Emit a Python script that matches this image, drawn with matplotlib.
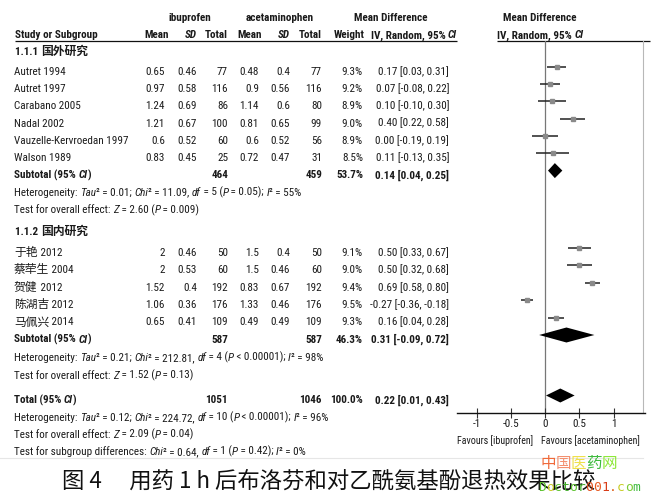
import matplotlib
matplotlib.use('Agg')
import matplotlib.pyplot as plt
from matplotlib import font_manager as fm
from matplotlib.font_manager import FontProperties

# ---------------- data ----------------
g1_label = '1.1.1 国外研究'
g1_studies = ['Autret 1994', 'Autret 1997', 'Carabano 2005', 'Nadal 2002',
              'Vauzelle-Kervroedan 1997', 'Walson 1989']
g1_ibu_mean = [0.65, 0.97, 1.24, 1.21, 0.6, 0.83]
g1_ibu_sd = [0.46, 0.58, 0.69, 0.67, 0.52, 0.45]
g1_ibu_n = [77, 116, 86, 100, 60, 25]
g1_ace_mean = [0.48, 0.9, 1.14, 0.81, 0.6, 0.72]
g1_ace_sd = [0.4, 0.56, 0.6, 0.65, 0.52, 0.47]
g1_ace_n = [77, 116, 80, 99, 56, 31]
g1_weight = [9.3, 9.2, 8.9, 9.0, 8.9, 8.5]
g1_md = [0.17, 0.07, 0.10, 0.40, 0.00, 0.11]
g1_lo = [0.03, -0.08, -0.10, 0.22, -0.19, -0.13]
g1_hi = [0.31, 0.22, 0.30, 0.58, 0.19, 0.35]
g1_sub = dict(ibu_n=464, ace_n=459, weight=53.7, md=0.14, lo=0.04, hi=0.25)
g1_het = ['Heterogeneity: ', ('Tau',), '² = 0.01; ', ('Chi',), '² = 11.09, ', ('df',),
          ' = 5 (', ('P',), ' = 0.05); ', ('I',), '² = 55%']
g1_test = ['Test for overall effect: ', ('Z',), ' = 2.60 (', ('P',), ' = 0.009)']

g2_label = '1.1.2 国内研究'
g2_studies = ['于艳 2012', '蔡荦生 2004', '贺健 2012', '陈湖吉 2012', '马佩兴 2014']
g2_ibu_mean = [2, 2, 1.52, 1.06, 0.65]
g2_ibu_sd = [0.46, 0.53, 0.4, 0.36, 0.41]
g2_ibu_n = [50, 60, 192, 176, 109]
g2_ace_mean = [1.5, 1.5, 0.83, 1.33, 0.49]
g2_ace_sd = [0.4, 0.46, 0.67, 0.46, 0.49]
g2_ace_n = [50, 60, 192, 176, 109]
g2_weight = [9.1, 9.0, 9.4, 9.5, 9.3]
g2_md = [0.50, 0.50, 0.69, -0.27, 0.16]
g2_lo = [0.33, 0.32, 0.58, -0.36, 0.04]
g2_hi = [0.67, 0.68, 0.80, -0.18, 0.28]
g2_sub = dict(ibu_n=587, ace_n=587, weight=46.3, md=0.31, lo=-0.09, hi=0.72)
g2_het = ['Heterogeneity: ', ('Tau',), '² = 0.21; ', ('Chi',), '² = 212.81, ', ('df',),
          ' = 4 (', ('P',), ' < 0.00001); ', ('I',), '² = 98%']
g2_test = ['Test for overall effect: ', ('Z',), ' = 1.52 (', ('P',), ' = 0.13)']

total = dict(ibu_n=1051, ace_n=1046, weight=100.0, md=0.22, lo=0.01, hi=0.43)
tot_het = ['Heterogeneity: ', ('Tau',), '² = 0.12; ', ('Chi',), '² = 224.72, ', ('df',),
           ' = 10 (', ('P',), ' < 0.00001); ', ('I',), '² = 96%']
tot_test = ['Test for overall effect: ', ('Z',), ' = 2.09 (', ('P',), ' = 0.04)']
sub_test = ['Test for subgroup differences: ', ('Chi',), '² = 0.64, ', ('df',), ' = 1 (',
            ('P',), ' = 0.42); ', ('I',), '² = 0%']

tick_vals = [-1, -0.5, 0, 0.5, 1]
tick_labels = ['-1', '-0.5', '0', '0.5', '1']
favours_left = 'Favours [ibuprofen]'
favours_right = 'Favours [acetaminophen]'
caption = '图 4\u3000 用药 1 h 后布洛芬和对乙酰氨基酚退热效果比较'
wm1 = '中国医药网'
wm2 = 'Doctor001.com'

# ---------------- figure ----------------
CJK = 'Noto Sans CJK SC'
TXT = '#1a1a1a'
fig = plt.figure(figsize=(6.53, 4.98), dpi=100)
fig.patch.set_facecolor('white')
ax = fig.add_axes([0, 0, 1, 1])
ax.set_xlim(0, 653)
ax.set_ylim(498, 0)
ax.axis('off')
R = fig.canvas.get_renderer()


def raw_w(s, kw):
    t = ax.text(0, 0, '|' + s + '|', **kw)
    w1 = t.get_window_extent(R).width
    t.remove()
    t = ax.text(0, 0, '||', **kw)
    w2 = t.get_window_extent(R).width
    t.remove()
    return w1 - w2


# ---- pick a narrow sans face family (regular/bold/italic files) ----
def wnum(w):
    if isinstance(w, str):
        return fm.weight_dict.get(w, 400)
    return int(w)


OK_NAMES = {'Liberation Sans Narrow', 'Arial Narrow', 'Liberation Sans', 'Arimo',
            'Noto Sans', 'Noto Sans Condensed', 'Noto Sans SemiCondensed',
            'Noto Sans ExtraCondensed', 'DejaVu Sans', 'DejaVu Sans Condensed',
            'Roboto', 'Roboto Condensed', 'Lato', 'Open Sans', 'Open Sans Condensed',
            'Open Sans SemiCondensed', 'Inter'}
entries = [f for f in fm.fontManager.ttflist if f.name in OK_NAMES]
TARGET = 119.0   # width of 'Vauzelle-Kervroedan 1997' in the reference (px)
best = None
for f in entries:
    if f.style != 'normal' or not (350 <= wnum(f.weight) <= 500):
        continue
    sib = [g for g in entries if g.name == f.name and g.stretch == f.stretch]
    bold = [g for g in sib if g.style == 'normal' and wnum(g.weight) >= 600]
    ital = [g for g in sib if g.style != 'normal' and 350 <= wnum(g.weight) <= 500]
    bital = [g for g in sib if g.style != 'normal' and wnum(g.weight) >= 600]
    try:
        w = raw_w('Vauzelle-Kervroedan 1997',
                  dict(fontproperties=FontProperties(fname=f.fname, size=9)))
    except Exception:
        continue
    score = abs(w - TARGET) + (0 if bold else 25) + (0 if ital else 10) + (0 if bital else 5)
    if best is None or score < best[0]:
        pick = lambda lst, tw: (min(lst, key=lambda g: abs(wnum(g.weight) - tw)).fname
                                if lst else None)
        best = (score, w, f.fname, pick(bold, 700), pick(ital, 400), pick(bital, 700))

if best is None:
    dv = fm.findfont('DejaVu Sans')
    best = (0, 140.0, dv, None, None, None)
_, W9, F_REG, F_BOLD, F_IT, F_BIT = best
F_BOLD = F_BOLD or F_REG
F_IT = F_IT or F_REG
F_BIT = F_BIT or F_IT or F_BOLD
FS = 9.0
FS_CJK = 8.5


def lat_prop(bold=False, italic=False, size=None):
    fn = {(False, False): F_REG, (True, False): F_BOLD,
          (False, True): F_IT, (True, True): F_BIT}[(bold, italic)]
    return FontProperties(fname=fn, size=size or FS)


def cjk_prop(bold=False, size=None):
    return FontProperties(family=[CJK], weight='bold' if bold else 'normal',
                          size=size or FS_CJK)


def is_cjk(ch):
    return ord(ch) >= 0x2E80


def runs(s):
    out = []
    for ch in s:
        c = is_cjk(ch)
        if out and out[-1][1] == c:
            out[-1][0] += ch
        else:
            out.append([ch, c])
    return out


def segments(parts, bold=False, size=None, color=TXT):
    segs = []
    for p in parts:
        italic = isinstance(p, tuple)
        s = p[0] if italic else p
        for r, c in runs(s):
            fp = cjk_prop(bold) if c else lat_prop(bold, italic, size)
            segs.append((r, dict(fontproperties=fp, color=color)))
    return segs


# calibrate the font size on the width of the heterogeneity line (289 px in the reference)
w_het9 = sum(raw_w(s, kw) for s, kw in segments(g1_het, size=9.0))
FS = max(7.4, min(9.6, 9.0 * 289.0 / w_het9))


def rich(x, y, parts, ha='left', bold=False, color=TXT, size=None):
    # y = visual centre of capital letters
    segs = segments(parts, bold, size, color)
    widths = [raw_w(s, kw) for s, kw in segs]
    totw = sum(widths)
    x0 = x if ha == 'left' else (x - totw / 2 if ha == 'center' else x - totw)
    for (s, kw), w in zip(segs, widths):
        ax.text(x0, y + 4.3, s, ha='left', va='baseline', **kw)
        x0 += w


def put(x, y, s, ha='left', bold=False, italic=False, size=None):
    if any(is_cjk(ch) for ch in s):
        rich(x, y, [s], ha=ha, bold=bold, size=size)
    else:
        ax.text(x, y + 4.3, s, ha=ha, va='baseline', color=TXT,
                fontproperties=lat_prop(bold, italic, size))


# ---------------- layout ----------------
C_IM, C_IS, C_IN = 165, 197, 228
C_AM, C_AS, C_AN = 259, 290, 322
C_W, C_CI = 363, 449
X0 = 14
Y_H1, Y_H2, Y_UL = 17, 34, 40.5
Y_G1 = 50.5
Y_S1 = [70.3, 87.6, 104.9, 122.2, 139.5, 156.8]
Y_SUB1, Y_HET1, Y_TEST1 = 174.1, 191.4, 208.7
Y_G2 = 230.5
Y_S2 = [251.5, 268.9, 286.3, 303.7, 321.1]
Y_SUB2, Y_HET2, Y_TEST2 = 338.5, 356.5, 374.5
Y_TOT, Y_HETT, Y_TESTT, Y_SUBT = 399, 416.5, 433.5, 450.5
MARK_DY = -3.5
AX_LEFT, AX_RIGHT, AX_Y = 456.7, 645, 412.5
ZERO_PX, UNIT_PX = 545.3, 68.2

# ---------------- header ----------------
put(190, Y_H1, 'ibuprofen', ha='center', bold=True)
put(280, Y_H1, 'acetaminophen', ha='center', bold=True)
put(391, Y_H1, 'Mean Difference', ha='center', bold=True)
put(540, Y_H1, 'Mean Difference', ha='center', bold=True)
put(X0 + 1, Y_H2, 'Study or Subgroup', bold=True)
put(157, Y_H2, 'Mean', ha='center', bold=True)
put(C_IS, Y_H2, 'SD', ha='right', bold=True, italic=True)
put(C_IN, Y_H2, 'Total', ha='right', bold=True)
put(250, Y_H2, 'Mean', ha='center', bold=True)
put(C_AS, Y_H2, 'SD', ha='right', bold=True, italic=True)
put(C_AN, Y_H2, 'Total', ha='right', bold=True)
put(365, Y_H2, 'Weight', ha='right', bold=True)
rich(457, Y_H2, ['IV, Random, 95% ', ('CI',)], ha='right', bold=True)
rich(540, Y_H2, ['IV, Random, 95% ', ('CI',)], ha='center', bold=True)
ax.plot([15, 457], [Y_UL, Y_UL], color='#111', lw=0.9, solid_capstyle='butt')
ax.plot([497, 650], [Y_UL, Y_UL], color='#111', lw=0.9, solid_capstyle='butt')
# faint frame edges of the original screenshot
ax.plot([643, 643], [Y_UL, AX_Y], color='#b8b8b8', lw=0.8)
ax.plot([0, 643], [458, 458], color='#e6e6e6', lw=0.8)


def fmt(v):
    return f'{v:g}'


def ci_text(m, lo, hi):
    return f'{m:.2f} [{lo:.2f}, {hi:.2f}]'


# ---------------- forest axes ----------------
fw = AX_RIGHT - AX_LEFT
fx = fig.add_axes([AX_LEFT / 653, 1 - AX_Y / 498, fw / 653, (AX_Y - Y_UL) / 498])
fx.set_xlim((AX_LEFT - ZERO_PX) / UNIT_PX, (AX_RIGHT - ZERO_PX) / UNIT_PX)
fx.set_ylim(AX_Y, Y_UL)
fx.patch.set_alpha(0)
for s in ['left', 'right', 'top']:
    fx.spines[s].set_visible(False)
fx.spines['bottom'].set_color('#111')
fx.spines['bottom'].set_linewidth(1.0)
fx.set_yticks([])
fx.set_xticks(tick_vals)
fx.set_xticklabels(tick_labels)
fx.tick_params(axis='x', direction='inout', length=7, width=0.8, color='#333',
               pad=1.5, labelcolor=TXT)
for lab in fx.get_xticklabels():
    lab.set_fontproperties(lat_prop())
fx.axvline(0, color='#777', lw=0.9, zorder=1)


def study_rows(ys, names_, im, isd, inn, am, asd, an, w, md, lo, hi):
    for i, y in enumerate(ys):
        put(X0, y, names_[i])
        put(C_IM, y, fmt(im[i]), ha='right')
        put(C_IS, y, fmt(isd[i]), ha='right')
        put(C_IN, y, str(inn[i]), ha='right')
        put(C_AM, y, fmt(am[i]), ha='right')
        put(C_AS, y, fmt(asd[i]), ha='right')
        put(C_AN, y, str(an[i]), ha='right')
        put(C_W, y, f'{w[i]:.1f}%', ha='right')
        put(C_CI, y, ci_text(md[i], lo[i], hi[i]), ha='right')
        ym = y + MARK_DY
        fx.plot([lo[i], hi[i]], [ym, ym], color='#222', lw=1.1, zorder=3,
                solid_capstyle='butt')
        fx.plot([md[i]], [ym], marker='s', ms=w[i] * 0.26, color='#8a8a8a',
                mec='#8a8a8a', zorder=4)


def summary_row(y, label, d, half_h):
    rich(X0, y, [label + ' (95% ', ('CI',), ')'], bold=True)
    put(C_IN, y, str(d['ibu_n']), ha='right', bold=True)
    put(C_AN, y, str(d['ace_n']), ha='right', bold=True)
    put(C_W, y, f"{d['weight']:.1f}%", ha='right', bold=True)
    put(C_CI, y, ci_text(d['md'], d['lo'], d['hi']), ha='right', bold=True)
    ym = y + MARK_DY
    fx.fill([d['lo'], d['md'], d['hi'], d['md']],
            [ym, ym - half_h, ym, ym + half_h], color='black', lw=0, zorder=4)


put(X0 + 1, Y_G1, g1_label, bold=True)
study_rows(Y_S1, g1_studies, g1_ibu_mean, g1_ibu_sd, g1_ibu_n, g1_ace_mean,
           g1_ace_sd, g1_ace_n, g1_weight, g1_md, g1_lo, g1_hi)
summary_row(Y_SUB1, 'Subtotal', g1_sub, 7.5)
rich(X0, Y_HET1, g1_het)
rich(X0, Y_TEST1, g1_test)

put(X0 + 1, Y_G2, g2_label, bold=True)
study_rows(Y_S2, g2_studies, g2_ibu_mean, g2_ibu_sd, g2_ibu_n, g2_ace_mean,
           g2_ace_sd, g2_ace_n, g2_weight, g2_md, g2_lo, g2_hi)
summary_row(Y_SUB2, 'Subtotal', g2_sub, 7.5)
rich(X0, Y_HET2, g2_het)
rich(X0, Y_TEST2, g2_test)

summary_row(Y_TOT, 'Total', total, 7)
rich(X0, Y_HETT, tot_het)
rich(X0, Y_TESTT, tot_test)
rich(X0, Y_SUBT, sub_test)

# favours labels: fit the widths they have in the reference (76 px and 102 px)
fs_fav = min(FS,
             FS * 76.0 / raw_w(favours_left, dict(fontproperties=lat_prop())),
             FS * 102.0 / raw_w(favours_right, dict(fontproperties=lat_prop())))
put(533, 440, favours_left, ha='right', size=fs_fav)
put(541, 440, favours_right, ha='left', size=fs_fav)

# ---------------- caption & watermark ----------------
ax.text(62, 481, caption, ha='left', va='center', fontsize=16.1,
        family=[CJK, 'DejaVu Sans'], color='#111')

wm1_colors = ['#f06a3a', '#f39070', '#efe04a', '#3dbb3d', '#8ee83a']
rx = 540
for ch, c in zip(wm1, wm1_colors):
    kw = dict(fontsize=11.2, family=[CJK, 'DejaVu Sans'], color=c)
    ax.text(rx, 463, ch, ha='left', va='center', **kw)
    rx += raw_w(ch, kw)
wm2_colors = ['#5cc22e', '#c8c81e', '#5cc22e', '#3faa28', '#5cc22e', '#3faa28',
              '#e0501e', '#e85a22', '#d83c18', '#e0641e', '#c8cc22', '#7acc33', '#44bb44']
rx = 538
for ch, c in zip(wm2, wm2_colors):
    kw = dict(fontsize=9.4, family=['DejaVu Sans Mono'], color=c)
    ax.text(rx, 487, ch, ha='left', va='center', **kw)
    rx += raw_w(ch, kw)

fig.savefig('out.png', dpi=100, facecolor='white')
